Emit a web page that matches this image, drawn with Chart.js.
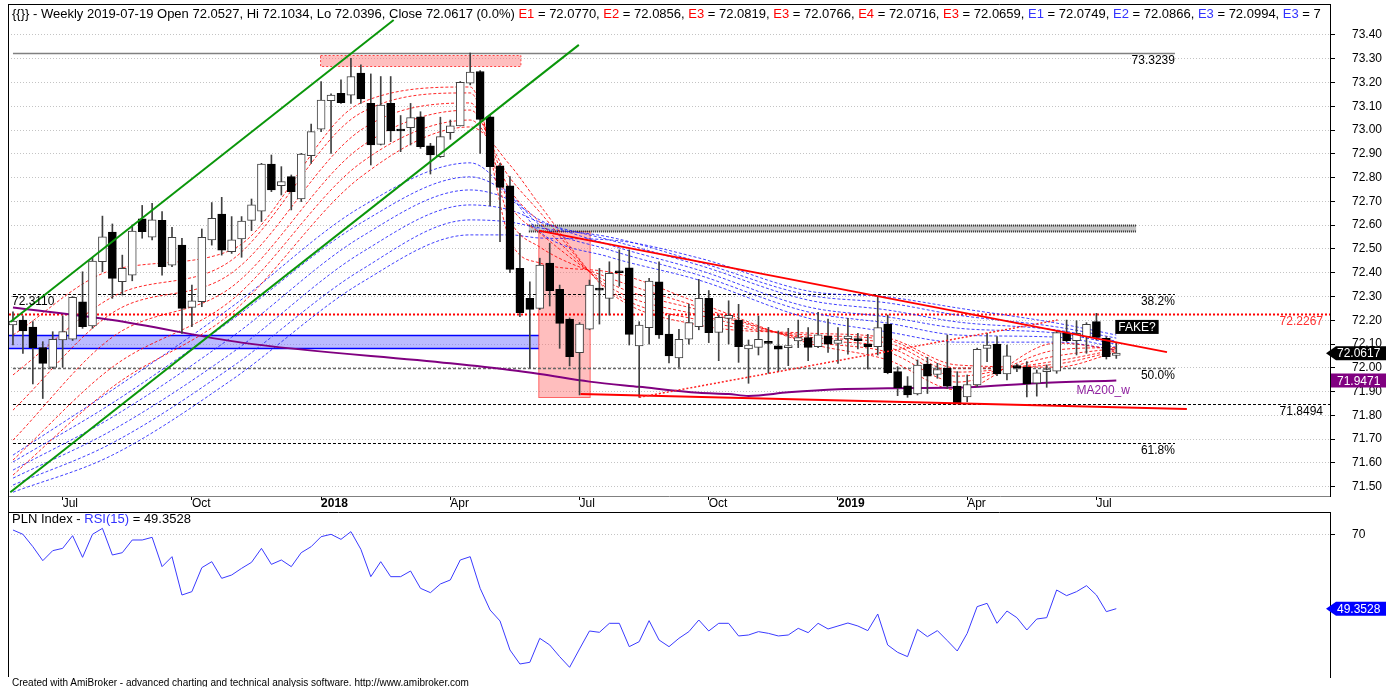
<!DOCTYPE html>
<html>
<head>
<meta charset="utf-8">
<title>PLN Index weekly</title>
<script src="https://cdn.jsdelivr.net/npm/chart.js@4.4.1/dist/chart.umd.min.js"></script>
<style>
  body { margin: 0; background: #fff; width: 1386px; height: 687px; overflow: hidden; position: relative; font-family: Arial, "Liberation Sans", sans-serif; }
  canvas { position: absolute; left: 0; }
  #main { top: 0; }
  #rsi { top: 510px; }
  .txt { position: absolute; white-space: nowrap; color: #000; font-size: 12px; }
  #header { left: 12px; top: 6px; line-height: 16px; width: 1312px; overflow: hidden; font-size: 13px; }
  #rsiTitle { left: 12px; top: 512px; line-height: 14px; font-size: 13px; }
  #footer { left: 12px; top: 677px; font-size: 10px; line-height: 12px; }
  .r { color: #f00; }
  .b { color: #33f; }
</style>
</head>
<body>
<canvas id="main" width="1386" height="510"></canvas>
<canvas id="rsi" width="1386" height="177"></canvas>
<div id="header" class="txt">{{}} - Weekly 2019-07-19 Open 72.0527, Hi 72.1034, Lo 72.0396, Close 72.0617 (0.0%) <span class="r">E1</span> = 72.0770, <span class="r">E2</span> = 72.0856, <span class="r">E3</span> = 72.0819, <span class="r">E3</span> = 72.0766, <span class="r">E4</span> = 72.0716, <span class="r">E3</span> = 72.0659, <span class="b">E1</span> = 72.0749, <span class="b">E2</span> = 72.0866, <span class="b">E3</span> = 72.0994, <span class="b">E3</span> = 7</div>
<div id="rsiTitle" class="txt">PLN Index - <span class="b">RSI(15)</span> = 49.3528</div>
<div id="footer" class="txt">Created with AmiBroker - advanced charting and technical analysis software. http://www.amibroker.com</div>
<script>
"use strict";

// weekly bars, first bar = week of 2017-06-02, last = 2019-07-19
var totalSlots = 133;
var opens = [72.180,72.201,72.171,72.085,72.002,72.117,72.120,72.278,72.176,72.446,
  72.571,72.362,72.390,72.627,72.549,72.620,72.432,72.516,72.254,72.278,
  72.538,72.647,72.488,72.542,72.620,72.659,72.857,72.766,72.804,72.710,
  72.892,73.004,73.124,73.154,73.147,73.239,73.112,72.940,73.112,73.000,
  73.010,73.056,72.934,72.888,72.989,73.017,73.197,73.246,73.056,72.849,
  72.765,72.418,72.292,72.250,72.440,72.330,72.205,72.064,72.163,72.334,
  72.292,72.404,72.421,72.092,72.169,72.362,72.142,72.042,72.120,72.173,
  72.292,72.149,72.208,72.201,72.079,72.086,72.107,72.093,72.085,72.113,
  72.127,72.089,72.134,72.103,72.123,72.123,72.100,72.089,72.184,71.984,
  71.924,71.890,72.016,71.972,71.998,71.923,71.878,71.928,72.082,72.100,
  71.974,72.005,72.002,71.935,71.984,71.986,72.145,72.114,72.131,72.194,
  72.124,72.0527];
var highs = [72.236,72.219,72.194,72.110,72.152,72.219,72.300,72.404,72.465,72.638,
  72.605,72.474,72.601,72.683,72.692,72.657,72.591,72.545,72.348,72.584,
  72.695,72.717,72.636,72.636,72.710,72.860,72.895,72.846,72.811,72.902,
  73.025,73.204,73.152,73.211,73.302,73.274,73.236,73.225,73.225,73.061,
  73.112,73.077,72.944,73.054,73.042,73.204,73.3239,73.250,73.063,72.860,
  72.804,72.566,72.362,72.461,72.524,72.348,72.210,72.190,72.369,72.418,
  72.446,72.496,72.496,72.194,72.376,72.446,72.222,72.162,72.268,72.372,
  72.325,72.222,72.282,72.267,72.117,72.218,72.170,72.155,72.166,72.201,
  72.169,72.233,72.205,72.169,72.208,72.145,72.141,72.299,72.222,72.005,
  71.963,72.033,72.044,72.019,72.138,71.984,71.970,72.083,72.145,72.131,
  72.096,72.016,72.026,71.991,72.012,72.156,72.201,72.198,72.190,72.229,
  72.131,72.1034];
var lows = [72.096,72.061,71.932,71.871,71.998,72.002,72.115,72.166,72.166,72.404,
  72.292,72.306,72.366,72.545,72.538,72.390,72.425,72.145,72.173,72.257,
  72.516,72.474,72.481,72.465,72.577,72.615,72.741,72.727,72.664,72.699,
  72.860,72.993,72.902,73.112,73.112,73.112,72.853,72.937,72.951,72.909,
  72.937,72.923,72.815,72.885,72.961,73.017,73.190,72.902,72.682,72.531,
  72.400,72.215,72.000,72.245,72.260,72.082,72.008,71.886,72.160,72.184,
  72.222,72.343,72.096,71.876,72.100,72.124,72.021,72.002,72.100,72.160,
  72.106,72.030,72.100,72.023,71.935,72.054,71.977,71.984,72.009,72.085,
  72.030,72.085,72.065,72.019,72.057,72.079,71.995,72.054,71.975,71.883,
  71.876,71.886,71.892,71.956,71.913,71.8494,71.857,71.921,72.026,71.967,
  71.949,71.984,71.878,71.881,71.918,71.977,72.110,72.054,72.061,72.117,
  72.037,72.0396];
var closes = [72.197,72.155,72.085,72.019,72.120,72.152,72.296,72.173,72.449,72.551,
  72.376,72.418,72.575,72.573,72.622,72.425,72.549,72.250,72.282,72.549,
  72.629,72.495,72.538,72.617,72.685,72.857,72.748,72.783,72.741,72.899,
  72.993,73.126,73.147,73.115,73.225,73.131,72.937,73.105,72.996,72.996,
  73.052,72.930,72.895,72.972,73.018,73.201,73.244,73.045,72.846,72.759,
  72.414,72.232,72.246,72.432,72.324,72.187,72.047,72.184,72.348,72.327,
  72.397,72.400,72.141,72.180,72.365,72.138,72.050,72.120,72.190,72.292,
  72.148,72.212,72.221,72.089,72.096,72.120,72.103,72.078,72.089,72.127,
  72.086,72.139,72.100,72.117,72.134,72.114,72.089,72.169,71.980,71.917,
  71.886,72.012,71.965,71.993,71.923,71.850,71.930,72.078,72.096,71.974,
  72.050,72.001,71.932,71.979,71.991,72.148,72.114,72.145,72.183,72.128,
  72.047,72.0617];
var rsi15 = [71.19,70.00,66.57,62.68,65.46,66.10,69.62,63.61,70.00,71.65,
  64.25,64.90,68.42,68.42,69.16,61.02,63.79,53.15,54.08,60.74,
  62.40,57.78,58.70,60.55,62.22,66.10,61.66,62.87,61.02,64.90,
  66.57,69.34,70.00,68.60,70.73,65.83,58.24,62.40,58.24,58.24,
  59.81,55.00,53.80,56.21,57.32,62.87,63.79,55.00,48.99,45.94,
  37.89,34.00,34.47,41.13,39.28,36.04,33.08,38.17,43.16,42.79,
  45.29,45.29,38.81,40.20,46.03,40.66,38.81,41.13,42.98,46.21,
  43.16,45.29,45.29,41.78,42.05,42.98,42.51,41.78,42.05,43.90,
  42.70,45.29,43.72,44.55,45.38,44.55,43.26,47.88,39.28,37.24,
  36.04,43.62,41.59,43.26,40.48,37.61,42.51,49.92,50.84,45.29,
  48.71,46.86,43.44,46.49,46.86,54.54,52.97,54.08,55.74,53.15,
  48.53,49.3528];

// EMA ribbons read at a few weeks
var ribbonWeeks = [0, 10, 22, 35, 46, 50, 53, 60, 69, 80, 88, 95, 105, 111];
var redEma1 = [72.138,72.411,72.496,73.114,73.181,72.538,72.441,72.403,72.273,72.104,72.033,71.907,72.104,72.0770];
var redEma2 = [71.970,72.298,72.453,73.072,73.156,72.622,72.508,72.378,72.256,72.113,72.066,71.940,72.075,72.0856];
var redEma3 = [71.822,72.231,72.399,73.000,73.114,72.685,72.567,72.357,72.243,72.121,72.087,71.965,72.050,72.0819];
var redEma4 = [71.696,72.129,72.340,72.929,73.084,72.748,72.613,72.340,72.222,72.129,72.104,71.982,72.029,72.0766];
var redEma5 = [71.612,72.003,72.285,72.862,73.042,72.798,72.655,72.327,72.201,72.138,72.117,71.999,72.016,72.0716];
var redEma6 = [71.549,71.919,72.231,72.803,73.013,72.853,72.685,72.319,72.180,72.146,72.125,72.012,72.003,72.0659];
var blueEma1 = [71.633,71.907,72.256,72.676,72.862,72.727,72.571,72.466,72.369,72.209,72.151,72.108,72.108,72.0749];
var blueEma2 = [71.604,71.852,72.201,72.609,72.803,72.727,72.601,72.496,72.390,72.235,72.188,72.138,72.129,72.0866];
var blueEma3 = [71.570,71.793,72.129,72.550,72.748,72.706,72.622,72.517,72.411,72.256,72.214,72.167,72.146,72.0994];
var blueEma4 = [71.536,71.738,72.062,72.483,72.685,72.664,72.613,72.538,72.432,72.285,72.243,72.193,72.159,72.112];
var blueEma5 = [71.507,71.684,72.003,72.411,72.622,72.613,72.588,72.550,72.445,72.306,72.273,72.222,72.172,72.125];
var blueEma6 = [71.477,71.633,71.949,72.357,72.559,72.559,72.546,72.538,72.462,72.323,72.298,72.252,72.188,72.138];

var ma200Weeks = [0, 10, 23, 44, 50, 53, 58, 63, 69, 72, 74, 78, 83, 88, 96, 103, 111];
var ma200 = [72.254,72.201,72.106,72.019,71.991,71.974,71.942,71.920,71.895,71.890,71.882,71.897,71.910,71.914,71.918,71.935,71.9471];

var tickWeeks = [5, 18, 31, 44, 57, 70, 83, 96, 109];
var tickLabels = ['Jul', 'Oct', '2018', 'Apr', 'Jul', 'Oct', '2019', 'Apr', 'Jul'];
var priceTicks = [71.5,71.6,71.7,71.8,71.9,72.0,72.1,72.2,72.3,72.4,72.5,72.6,72.7,72.8,72.9,73.0,73.1,73.2,73.3,73.4];

// drawn objects: [week, price] end points, zones: [week from, week to, price low, price high]
var greenUpper = [[-0.27, 72.193], [38.3, 73.463]];
var greenLower = [[-0.27, 71.477], [56.93, 73.358]];
var redResistance = [[52.9, 72.577], [116.1, 72.066]];
var redSupport = [[57.1, 71.890], [118.1, 71.827]];
var redRising = [[63.0, 71.876], [105.1, 72.201]];
var topZone = [30.95, 51.1, 73.270, 73.316];
var blueZone = [-0.47, 52.9, 72.082, 72.138];
var pinkBox = [52.9, 58.07, 71.876, 72.577];
var grayBand = [51.9, 113.0, 72.577, 72.601];
var fibLevels = [73.3239, 72.3110, 71.998, 71.685];
var fibLabels = ['73.3239', '38.2%', '50.0%', '61.8%'];
var redLevel = 72.2267;
var lowLevel = 71.8494;
var fakeNote = [110.9, 72.172];
var maNote = [107.0, 71.904];

var weekLabels = [];
for (var i = 0; i < totalSlots; i++) {
  weekLabels.push(new Date(Date.UTC(2017, 5, 2) + i * 7 * 864e5).toISOString().slice(0, 10));
}
function sparse(weeks, vals) {
  var out = new Array(totalSlots).fill(null);
  weeks.forEach(function (w, k) { out[w] = vals[k]; });
  return out;
}

Chart.defaults.font.family = 'Arial, "Liberation Sans", sans-serif';
Chart.defaults.font.size = 12;
Chart.defaults.color = '#000';

function seg(ctx, x1, y1, x2, y2, color, width, dash) {
  ctx.beginPath();
  ctx.setLineDash(dash || []);
  ctx.strokeStyle = color;
  ctx.lineWidth = width;
  ctx.moveTo(x1, y1);
  ctx.lineTo(x2, y2);
  ctx.stroke();
}
function text(ctx, str, x, y, align, color, base) {
  ctx.font = '12px Arial, "Liberation Sans", sans-serif';
  ctx.fillStyle = color || '#000';
  ctx.textAlign = align;
  ctx.textBaseline = base || 'alphabetic';
  ctx.fillText(str, x, y);
}
function tag(ctx, axisX, right, py, str, color, arrow) {
  ctx.setLineDash([]);
  ctx.fillStyle = color;
  ctx.beginPath();
  if (arrow) {
    ctx.moveTo(axisX - 4, py);
    ctx.lineTo(axisX + 6, py - 7);
    ctx.lineTo(right, py - 7);
    ctx.lineTo(right, py + 7);
    ctx.lineTo(axisX + 6, py + 7);
    ctx.closePath();
  } else {
    ctx.rect(axisX + 1, py - 7, right - axisX - 1, 14);
  }
  ctx.fill();
  text(ctx, str, axisX + 7, py + 1, 'left', '#fff', 'middle');
}
// keep the right axis from reserving room for half-labels above and below
function fitRight(s) {
  s.width = 56;
  s.paddingTop = 0;
  s.paddingBottom = 0;
}

var drawings = {
  id: 'drawings',
  beforeDatasetsDraw: function (chart) {
    var ctx = chart.ctx, a = chart.chartArea, x = chart.scales.x, y = chart.scales.y;
    var X = function (w) { return x.getPixelForValue(w); };
    var Y = function (p) { return Math.round(y.getPixelForValue(p)) + 0.5; };
    ctx.save();
    ctx.beginPath();
    ctx.rect(a.left, a.top, a.right - a.left, a.bottom - a.top);
    ctx.clip();

    // zones
    ctx.fillStyle = 'rgba(120,120,255,0.5)';
    ctx.fillRect(X(blueZone[0]), Y(blueZone[3]), X(blueZone[1]) - X(blueZone[0]), Y(blueZone[2]) - Y(blueZone[3]));
    seg(ctx, X(blueZone[0]), Y(blueZone[3]), X(blueZone[1]), Y(blueZone[3]), '#0000ff', 1.5);
    seg(ctx, X(blueZone[0]), Y(blueZone[2]), X(blueZone[1]), Y(blueZone[2]), '#0000ff', 1.5);

    ctx.fillStyle = 'rgba(255,110,110,0.45)';
    ctx.fillRect(X(topZone[0]), Y(topZone[3]), X(topZone[1]) - X(topZone[0]), Y(topZone[2]) - Y(topZone[3]));
    ctx.setLineDash([2, 2]);
    ctx.strokeStyle = '#ff4040';
    ctx.lineWidth = 1;
    ctx.strokeRect(X(topZone[0]), Y(topZone[3]), X(topZone[1]) - X(topZone[0]), Y(topZone[2]) - Y(topZone[3]));

    ctx.fillStyle = 'rgba(255,100,100,0.42)';
    ctx.fillRect(X(pinkBox[0]), Y(pinkBox[3]), X(pinkBox[1]) - X(pinkBox[0]), Y(pinkBox[2]) - Y(pinkBox[3]));
    ctx.setLineDash([]);
    ctx.strokeStyle = 'rgba(255,0,0,0.55)';
    ctx.strokeRect(X(pinkBox[0]), Y(pinkBox[3]), X(pinkBox[1]) - X(pinkBox[0]), Y(pinkBox[2]) - Y(pinkBox[3]));

    ctx.fillStyle = 'rgba(160,160,160,0.6)';
    ctx.fillRect(X(grayBand[0]), Y(grayBand[3]), X(grayBand[1]) - X(grayBand[0]), Y(grayBand[2]) - Y(grayBand[3]));
    seg(ctx, X(grayBand[0]), Y(grayBand[3]), X(grayBand[1]), Y(grayBand[3]), '#222', 2, [1, 1]);
    seg(ctx, X(grayBand[0]), Y(grayBand[2]), X(grayBand[1]), Y(grayBand[2]), '#222', 2, [1, 1]);

    // horizontal levels
    seg(ctx, X(0), Y(fibLevels[0]), X(116.9), Y(fibLevels[0]), '#808080', 1.5);
    seg(ctx, X(0), Y(fibLevels[1]), X(116.9), Y(fibLevels[1]), '#000', 1, [3, 2]);
    seg(ctx, X(0), Y(fibLevels[2]), X(116.9), Y(fibLevels[2]), '#666', 1.5, [3, 2]);
    seg(ctx, X(0), Y(fibLevels[3]), X(116.9), Y(fibLevels[3]), '#000', 1, [3, 2]);
    seg(ctx, X(0), Y(lowLevel), a.right, Y(lowLevel), '#000', 1, [3, 2]);
    seg(ctx, X(-0.4), Y(redLevel), a.right, Y(redLevel), '#ff0000', 2, [2, 2]);
    ctx.restore();
  },
  afterDatasetsDraw: function (chart) {
    var ctx = chart.ctx, a = chart.chartArea, x = chart.scales.x, y = chart.scales.y;
    var X = function (w) { return x.getPixelForValue(w); };
    var Y = function (p) { return y.getPixelForValue(p); };
    var line = function (pts, color, width, dash) {
      seg(ctx, X(pts[0][0]), Y(pts[0][1]), X(pts[1][0]), Y(pts[1][1]), color, width, dash);
    };
    ctx.save();
    ctx.beginPath();
    ctx.rect(a.left, a.top, a.right - a.left, a.bottom - a.top);
    ctx.clip();
    line(greenUpper, '#0a960a', 2);
    line(greenLower, '#0a960a', 2);
    line(redResistance, '#ff0000', 2);
    line(redSupport, '#ff0000', 2);
    line(redRising, '#ff2020', 1.5, [2, 2]);
    ctx.restore();

    ctx.save();
    for (var k = 0; k < fibLevels.length; k++) {
      text(ctx, fibLabels[k], X(116.9), Y(fibLevels[k]) + 11, 'right');
    }
    text(ctx, fibLevels[1].toFixed(4), X(0) - 1, Y(fibLevels[1]) + 11, 'left');
    text(ctx, redLevel.toFixed(4), a.right - 7, Y(redLevel) + 11, 'right', '#ff3030');
    text(ctx, lowLevel.toFixed(4), a.right - 7, Y(lowLevel) + 11, 'right');

    ctx.font = '12px Arial, "Liberation Sans", sans-serif';
    var fw = ctx.measureText('FAKE?').width + 6;
    ctx.fillStyle = '#000';
    ctx.fillRect(X(fakeNote[0]), Y(fakeNote[1]) - 7, fw, 14);
    text(ctx, 'FAKE?', X(fakeNote[0]) + 3, Y(fakeNote[1]) + 1, 'left', '#fff', 'middle');
    text(ctx, 'MA200_w', X(maNote[0]), Y(maNote[1]), 'left', '#9020a0', 'middle');
    ctx.restore();
  },
  afterDraw: function (chart) {
    var ctx = chart.ctx, a = chart.chartArea, y = chart.scales.y;
    ctx.save();
    seg(ctx, a.left, a.top + 0.5, a.right, a.top + 0.5, '#000', 1);
    seg(ctx, a.left + 0.5, a.top, a.left + 0.5, chart.height, '#000', 1);
    tag(ctx, a.right, chart.width, y.getPixelForValue(ma200[ma200.length - 1]), ma200[ma200.length - 1].toFixed(4), '#800080', false);
    tag(ctx, a.right, chart.width, y.getPixelForValue(closes[closes.length - 1]), closes[closes.length - 1].toFixed(4), '#000', true);
    ctx.restore();
  }
};

var datasets = [];
datasets.push({
  type: 'bar',
  data: lows.map(function (l, k) { return [l, highs[k]]; }),
  backgroundColor: '#404040',
  borderWidth: 0,
  barThickness: 1,
  grouped: false,
  order: 1
});
datasets.push({
  type: 'bar',
  data: opens.map(function (o, k) { return [Math.min(o, closes[k]), Math.max(o, closes[k])]; }),
  backgroundColor: opens.map(function (o, k) { return closes[k] >= o ? '#ffffff' : '#000000'; }),
  borderColor: opens.map(function (o, k) { return closes[k] >= o ? '#404040' : '#000000'; }),
  borderWidth: 1,
  borderSkipped: false,
  barThickness: 8,
  minBarLength: 2,
  grouped: false,
  order: 0
});
datasets.push({
  type: 'line',
  data: sparse(ma200Weeks, ma200),
  borderColor: '#800080',
  borderWidth: 2,
  pointRadius: 0,
  spanGaps: true,
  cubicInterpolationMode: 'monotone',
  order: 2
});
[redEma1, redEma2, redEma3, redEma4, redEma5, redEma6].forEach(function (vals) {
  datasets.push({
    type: 'line', data: sparse(ribbonWeeks, vals), borderColor: 'rgba(255,0,0,0.85)', borderWidth: 1,
    borderDash: [3, 2], pointRadius: 0, spanGaps: true, cubicInterpolationMode: 'monotone', order: 3
  });
});
[blueEma1, blueEma2, blueEma3, blueEma4, blueEma5, blueEma6].forEach(function (vals) {
  datasets.push({
    type: 'line', data: sparse(ribbonWeeks, vals), borderColor: 'rgba(30,30,255,0.85)', borderWidth: 1,
    borderDash: [3, 2], pointRadius: 0, spanGaps: true, cubicInterpolationMode: 'monotone', order: 4
  });
});

new Chart(document.getElementById('main').getContext('2d'), {
  type: 'bar',
  data: { labels: weekLabels, datasets: datasets },
  options: {
    responsive: false,
    animation: false,
    layout: { autoPadding: false, padding: { left: 8, top: 4, right: 0, bottom: 0 } },
    plugins: { legend: { display: false }, tooltip: { enabled: false } },
    scales: {
      x: {
        type: 'category',
        offset: true,
        grid: { offset: false, drawOnChartArea: false, drawTicks: true, tickLength: 4, tickColor: '#000' },
        border: { color: '#808080' },
        afterBuildTicks: function (s) { s.ticks = tickWeeks.map(function (w) { return { value: w }; }); },
        afterFit: function (s) { s.height = 14; s.paddingLeft = 0; s.paddingRight = 0; },
        ticks: {
          autoSkip: false,
          maxRotation: 0,
          align: 'start',
          padding: -4,
          color: '#000',
          font: function (c) { return { size: 12, weight: /^\d{4}$/.test(tickLabels[c.index]) ? 'bold' : 'normal' }; },
          callback: function (v) { return tickLabels[tickWeeks.indexOf(v)]; }
        }
      },
      y: {
        type: 'linear',
        position: 'right',
        min: 71.461,
        max: 73.530,
        grid: { color: '#c4c4c4', tickColor: '#000', tickLength: 5 },
        border: { color: '#000', dash: [1, 2] },
        afterBuildTicks: function (s) { s.ticks = priceTicks.map(function (v) { return { value: v }; }); },
        afterFit: fitRight,
        ticks: { autoSkip: false, padding: 17, color: '#000', callback: function (v) { return v.toFixed(2); } }
      }
    }
  },
  plugins: [drawings]
});

var rsiDecor = {
  id: 'rsiDecor',
  afterDraw: function (chart) {
    var ctx = chart.ctx, a = chart.chartArea, y = chart.scales.y;
    var last = rsi15[rsi15.length - 1];
    ctx.save();
    seg(ctx, a.left, a.top + 0.5, a.right, a.top + 0.5, '#000', 1);
    seg(ctx, a.left + 0.5, 0, a.left + 0.5, a.bottom, '#000', 1);
    tag(ctx, a.right, chart.width, y.getPixelForValue(last), last.toFixed(4), '#0000ff', true);
    ctx.restore();
  }
};

new Chart(document.getElementById('rsi').getContext('2d'), {
  type: 'line',
  data: {
    labels: weekLabels,
    datasets: [{ data: rsi15, borderColor: '#3a3aff', borderWidth: 1, pointRadius: 0, tension: 0 }]
  },
  options: {
    responsive: false,
    animation: false,
    layout: { autoPadding: false, padding: { left: 8, top: 2, right: 0, bottom: 10 } },
    plugins: { legend: { display: false }, tooltip: { enabled: false } },
    scales: {
      x: { type: 'category', offset: true, display: false },
      y: {
        position: 'right',
        min: 30.39,
        max: 76.19,
        grid: { color: '#c4c4c4', tickColor: '#000', tickLength: 5 },
        border: { color: '#000', dash: [1, 2] },
        afterBuildTicks: function (s) { s.ticks = [{ value: 70 }]; },
        afterFit: fitRight,
        ticks: { padding: 17, color: '#000' }
      }
    }
  },
  plugins: [rsiDecor]
});
</script>
</body>
</html>
